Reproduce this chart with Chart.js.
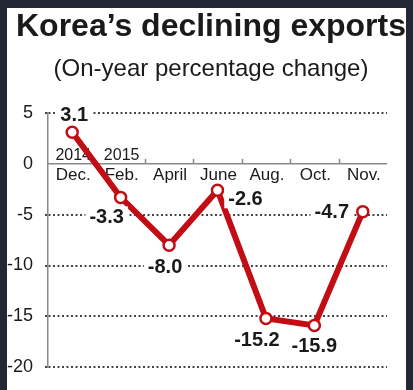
<!DOCTYPE html>
<html><head><meta charset="utf-8">
<script src="https://cdn.jsdelivr.net/npm/chart.js@4/dist/chart.umd.min.js"></script>
<style>
html,body{margin:0;padding:0;background:#232633;width:413px;height:390px;overflow:hidden}
#card{position:absolute;left:7px;top:8px;width:399px;height:382px;background:#fff}
canvas{display:block}
</style></head><body>
<div id="card"><canvas id="c" width="399" height="382"></canvas></div>
<script>
const titleText = 'Korea\u2019s declining exports';
const subtitleText = '(On-year percentage change)';
const categories = ['Dec.','Feb.','April','June','Aug.','Oct.','Nov.'];
const yearLabels = ['2014','2015','','','','',''];
const values = [3.1,-3.3,-8.0,-2.6,-15.2,-15.9,-4.7];
const yMin = -20, yMax = 5, yStep = 5;

const FONT = '"Liberation Sans", Arial, Helvetica, sans-serif';
const RED = '#c20d15';
const GRAY = '#8a8a8a';

const decor = {
  id: 'decor',
  beforeDatasetsDraw(chart) {
    const {ctx, chartArea, scales:{x, y}} = chart;
    const zy = y.getPixelForValue(0);
    ctx.save();
    ctx.strokeStyle = GRAY; ctx.lineWidth = 1.5;
    ctx.beginPath(); ctx.moveTo(chartArea.left, zy); ctx.lineTo(chartArea.right, zy); ctx.stroke();
    for (let i = 1; i < categories.length - 1; i++) {
      const bx = Math.round((x.getPixelForValue(i) + x.getPixelForValue(i + 1)) / 2) + 0.5;
      ctx.beginPath(); ctx.moveTo(bx, zy); ctx.lineTo(bx, zy - 5); ctx.stroke();
    }
    ctx.fillStyle = '#1a1a1a';
    ctx.textAlign = 'center'; ctx.textBaseline = 'alphabetic';
    ctx.font = '17px ' + FONT;
    categories.forEach((c, i) => ctx.fillText(c, x.getPixelForValue(i) + 1, zy + 16));
    ctx.font = '16px ' + FONT;
    yearLabels.forEach((c, i) => { if (c) ctx.fillText(c, x.getPixelForValue(i) + 1, zy - 4); });
    ctx.restore();
  },
  afterDraw(chart) {
    const {ctx, scales:{x, y}} = chart;
    const offs = chart.options.plugins.decor.offsets;
    ctx.save();
    ctx.font = 'bold 20px ' + FONT;
    ctx.textAlign = 'center'; ctx.textBaseline = 'middle';
    values.forEach((v, i) => {
      const px = x.getPixelForValue(i) + offs[i][0];
      const py = y.getPixelForValue(v) + offs[i][1];
      const t = v.toFixed(1);
      const w = ctx.measureText(t).width;
      ctx.fillStyle = '#fff';
      ctx.fillRect(px - w / 2 - 4, py - 10, w + 8, 20);
      ctx.fillStyle = '#1a1a1a';
      ctx.fillText(t, px, py + 1);
    });
    ctx.textBaseline = 'alphabetic';
    ctx.font = 'bold 32px ' + FONT;
    ctx.fillText(titleText, 204, 28);
    ctx.font = '24px ' + FONT;
    ctx.fillText(subtitleText, 204, 68);
    ctx.restore();
  }
};

new Chart(document.getElementById('c'), {
  type: 'line',
  data: {
    labels: categories,
    datasets: [{
      data: values,
      borderColor: RED,
      borderWidth: 6,
      pointRadius: 5.5,
      pointBorderWidth: 2.5,
      pointBackgroundColor: '#fff',
      pointBorderColor: RED,
      tension: 0,
      clip: false
    }]
  },
  options: {
    responsive: false,
    animation: false,
    devicePixelRatio: 1,
    layout: { padding: { left: 0, right: 19, top: 105, bottom: 21 } },
    plugins: {
      legend: { display: false },
      tooltip: { enabled: false },
      decor: { offsets: [[2,-18],[-14,19],[-4,21],[28,8],[-9,21],[0,20],[-31,0]] }
    },
    scales: {
      x: { type: 'category', offset: true, display: false },
      y: {
        min: yMin, max: yMax,
        afterFit(s) { s.width = 41; },
        afterBuildTicks(s) {
          s.ticks = [];
          for (let v = yMin; v <= yMax; v += yStep) s.ticks.push({ value: v });
        },
        grid: {
          color: (c) => c.tick && c.tick.value === 0 ? 'rgba(0,0,0,0)' : '#444',
          lineWidth: 2,
          drawTicks: true,
          tickLength: 3
        },
        border: { display: true, color: GRAY, width: 1.5, dash: [2, 2.5] },
        ticks: {
          padding: 12,
          color: '#1a1a1a',
          font: { family: FONT, size: 18 },
          callback: (v) => String(v)
        }
      }
    }
  },
  plugins: [decor]
});
</script>
</body></html>
